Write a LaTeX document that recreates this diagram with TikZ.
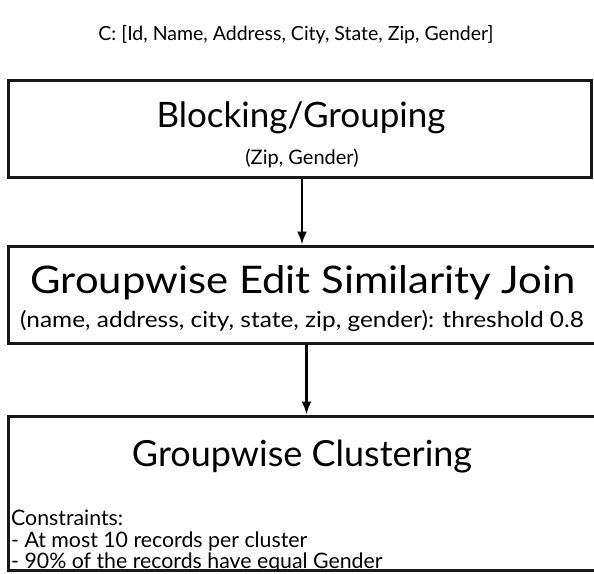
\documentclass[tikz,border=0pt]{standalone}
\usepackage{fontspec}
\setmainfont{Lato}
\usetikzlibrary{arrows.meta}
\begin{document}
\begin{tikzpicture}[x=1pt,y=-1pt,
  box/.style={draw=black!90,line width=3pt,inner sep=0pt},
  conn/.style={line width=2.4pt,-{Latex[length=13pt,width=10pt]}},
  txt/.style={inner sep=0pt}]
\useasboundingbox (0,0) rectangle (594,573);
\node[txt,anchor=base,font=\fontsize{19.5}{23}\selectfont] (title) at (296,40) {C: [Id, Name, Address, City, State, Zip, Gender]};
% boxes
\node[box,minimum width=583pt,minimum height=97pt] (b1) at (299.5,128.5) {};
\node[box,minimum width=590pt,minimum height=97pt] (b2) at (303,294.5) {};
\node[box,minimum width=590pt,minimum height=154pt] (b3) at (303,493) {};
% texts
\node[txt,anchor=base,font=\fontsize{35}{40}\selectfont] (t1) at (301,127) {Blocking/Grouping};
\node[txt,anchor=base,font=\fontsize{20}{24}\selectfont] (s1) at (302,164) {(Zip, Gender)};
\node[txt,anchor=base,font=\fontsize{38}{42}\selectfont] (t2) at (303,293) {\scalebox{1.1}[1]{Groupwise Edit Similarity Join}};
\node[txt,anchor=base,font=\fontsize{22}{26}\selectfont] (s2) at (302,327) {\scalebox{1.11}[1]{(name, address, city, state, zip, gender): threshold 0.8}};
\node[txt,anchor=base,font=\fontsize{36}{40}\selectfont] (t3) at (302,466) {Groupwise Clustering};
\node[txt,anchor=base west,font=\fontsize{21.3}{24}\selectfont] (c1) at (11,525) {Constraints:};
\node[txt,anchor=base west,font=\fontsize{21.3}{24}\selectfont] (c2) at (11,547) {- At most 10 records per cluster};
\node[txt,anchor=base west,font=\fontsize{21.3}{24}\selectfont] (c3) at (11,568) {- 90\% of the records have equal Gender};
% connectors
\coordinate (a1) at (302,0);
\coordinate (a2) at (306.5,0);
\draw[conn] (b1.south -| a1) -- (b2.north -| a1);
\draw[conn] (b2.south -| a2) -- (b3.north -| a2);
\end{tikzpicture}
\end{document}
